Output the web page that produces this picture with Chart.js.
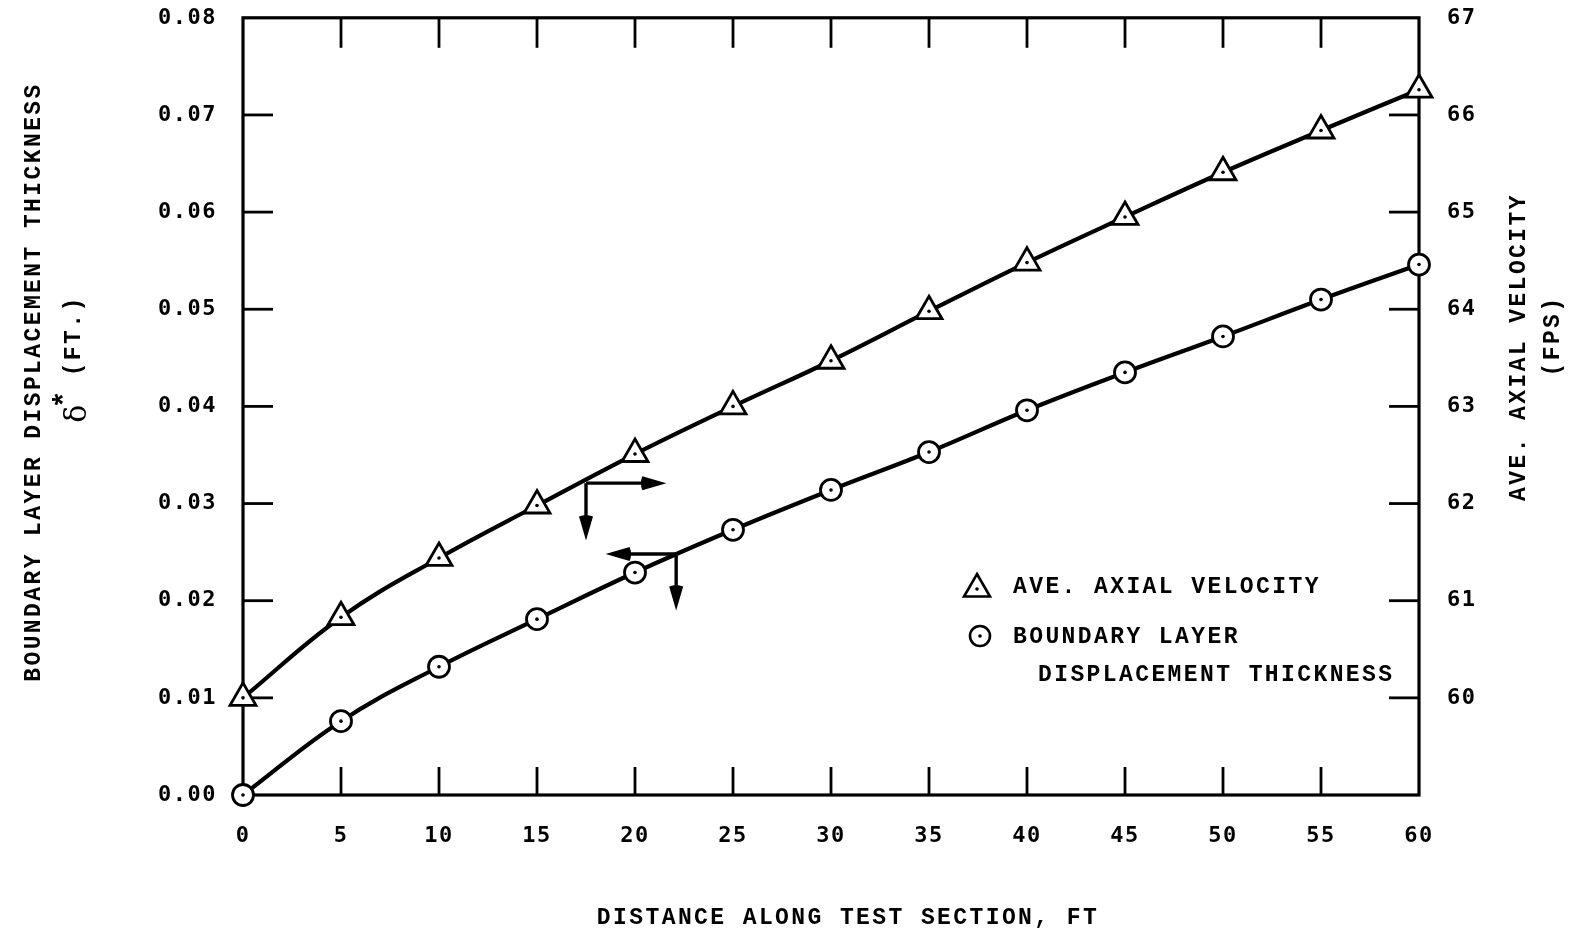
<!DOCTYPE html>
<html><head><meta charset="utf-8">
<script src="https://cdn.jsdelivr.net/npm/chart.js@4.4.1/dist/chart.umd.min.js"></script>
<style>html,body{margin:0;padding:0;background:#fff;}#wrap{width:1572px;height:938px;}</style>
</head><body><div id="wrap"><canvas id="c" width="1572" height="938"></canvas></div>
<script>
// ---- data ----
const distance = [0, 5, 10, 15, 20, 25, 30, 35, 40, 45, 50, 55, 60];
const axialVelocity = [60.00, 60.83, 61.44, 61.98, 62.51, 63.00, 63.47, 63.98, 64.48, 64.95, 65.41, 65.84, 66.26];
const displacementThickness = [0.0000, 0.0076, 0.0132, 0.0181, 0.0229, 0.0273, 0.0314, 0.0353, 0.0396, 0.0435, 0.0472, 0.0510, 0.0546];
const xTickValues = [0, 5, 10, 15, 20, 25, 30, 35, 40, 45, 50, 55, 60];
const leftTickValues = [0, 0.01, 0.02, 0.03, 0.04, 0.05, 0.06, 0.07, 0.08];
const rightTickValues = [60, 61, 62, 63, 64, 65, 66, 67];
// guide arrows: corner on a curve, horizontal tip (x), vertical tip (value on the curve's axis)
const arrowAxis = ['y2', 'y'];
const arrowCornerX = [17.5, 22.1];
const arrowCornerV = [62.21, 0.0248];
const arrowTipX = [21.6, 18.5];
const arrowTipV = [61.62, 0.0190];

const TICKFONT = '"DejaVu Sans Mono", "Liberation Mono", monospace';
const FONT = '"Liberation Mono", "DejaVu Sans Mono", monospace';
const TICK_LS = '1.5px';
const TITLE_LS = '2.4px';

function arrow(ctx, x1, y1, x2, y2) {
  const ang = Math.atan2(y2 - y1, x2 - x1);
  const L = 24, W = 7;
  const c = Math.cos(ang), s = Math.sin(ang);
  const bx = x2 - c * L, by = y2 - s * L;
  ctx.beginPath(); ctx.moveTo(x1, y1); ctx.lineTo(bx + c * 3, by + s * 3); ctx.stroke();
  ctx.beginPath();
  ctx.moveTo(x2, y2);
  ctx.lineTo(bx + s * W, by - c * W);
  ctx.quadraticCurveTo(bx - c * 3, by - s * 3, bx - s * W, by + c * W);
  ctx.closePath(); ctx.fill();
}

const decor = {
  id: 'decor',
  beforeDraw(chart) {
    const ctx = chart.ctx;
    ctx.save(); ctx.fillStyle = '#fff'; ctx.fillRect(0, 0, chart.width, chart.height); ctx.restore();
    ctx.letterSpacing = TICK_LS;
  },
  beforeDatasetsDraw(chart) {
    const ctx = chart.ctx, a = chart.chartArea, s = chart.scales;
    ctx.save();
    ctx.strokeStyle = '#000'; ctx.lineWidth = 3.2;
    ctx.strokeRect(a.left, a.top, a.right - a.left, a.bottom - a.top);
    ctx.lineWidth = 2.8;
    xTickValues.forEach(v => {
      if (v === 0 || v === 60) return;
      const px = s.x.getPixelForValue(v);
      ctx.beginPath(); ctx.moveTo(px, a.bottom); ctx.lineTo(px, a.bottom - 28); ctx.stroke();
      ctx.beginPath(); ctx.moveTo(px, a.top); ctx.lineTo(px, a.top + 30); ctx.stroke();
    });
    leftTickValues.forEach(v => {
      if (v === 0 || v === 0.08) return;
      const py = s.y.getPixelForValue(v);
      ctx.beginPath(); ctx.moveTo(a.left, py); ctx.lineTo(a.left + 30, py); ctx.stroke();
    });
    rightTickValues.forEach(v => {
      if (v === 67) return;
      const py = s.y2.getPixelForValue(v);
      ctx.beginPath(); ctx.moveTo(a.right, py); ctx.lineTo(a.right - 30, py); ctx.stroke();
    });
    ctx.restore();
  },
  afterDatasetsDraw(chart) {
    const ctx = chart.ctx, s = chart.scales;
    ctx.save();
    ctx.fillStyle = '#000';
    // centre dots in markers
    chart.data.datasets.forEach((ds, i) => {
      chart.getDatasetMeta(i).data.forEach(pt => {
        ctx.beginPath(); ctx.arc(pt.x, pt.y, 1.8, 0, Math.PI * 2); ctx.fill();
      });
    });
    // guide arrows
    ctx.strokeStyle = '#000'; ctx.lineWidth = 3.4;
    for (let i = 0; i < arrowAxis.length; i++) {
      const ys = s[arrowAxis[i]];
      const cx = s.x.getPixelForValue(arrowCornerX[i]);
      const cy = ys.getPixelForValue(arrowCornerV[i]);
      arrow(ctx, cx, cy, s.x.getPixelForValue(arrowTipX[i]), cy);
      arrow(ctx, cx, cy, cx, ys.getPixelForValue(arrowTipV[i]));
    }
    // legend
    const tri = (x, y, r) => {
      ctx.beginPath();
      for (let k = 0; k < 3; k++) {
        const ang = k * 2 * Math.PI / 3;
        const px = x + Math.sin(ang) * r, py = y - Math.cos(ang) * r;
        k ? ctx.lineTo(px, py) : ctx.moveTo(px, py);
      }
      ctx.closePath(); ctx.fillStyle = '#fff'; ctx.fill(); ctx.lineWidth = 2.6; ctx.stroke();
      ctx.fillStyle = '#000'; ctx.beginPath(); ctx.arc(x, y, 1.8, 0, Math.PI * 2); ctx.fill();
    };
    const circ = (x, y, r) => {
      ctx.beginPath(); ctx.arc(x, y, r, 0, Math.PI * 2); ctx.fillStyle = '#fff'; ctx.fill();
      ctx.lineWidth = 2.6; ctx.stroke();
      ctx.fillStyle = '#000'; ctx.beginPath(); ctx.arc(x, y, 1.8, 0, Math.PI * 2); ctx.fill();
    };
    tri(977, 589, 15);
    circ(980, 636, 10);
    ctx.fillStyle = '#000';
    const TF = 'bold 23px ' + FONT;
    ctx.font = TF; ctx.letterSpacing = TITLE_LS;
    ctx.textAlign = 'left'; ctx.textBaseline = 'middle';
    ctx.fillText('AVE. AXIAL VELOCITY', 1013, 587);
    ctx.fillText('BOUNDARY LAYER', 1013, 637);
    ctx.fillText('DISPLACEMENT THICKNESS', 1038, 675);
    // x title
    ctx.textAlign = 'center';
    ctx.fillText('DISTANCE ALONG TEST SECTION, FT', 848, 918);
    // left title
    ctx.save();
    ctx.translate(34, 382); ctx.rotate(-Math.PI / 2);
    ctx.fillText('BOUNDARY LAYER DISPLACEMENT THICKNESS', 0, 0);
    ctx.restore();
    ctx.save();
    ctx.translate(74, 356); ctx.rotate(-Math.PI / 2);
    ctx.textAlign = 'left';
    const DF = '30px "DejaVu Serif", "Liberation Serif", serif';
    const SF = 'bold 30px ' + FONT;
    ctx.font = DF; ctx.letterSpacing = '0px';
    const w1 = ctx.measureText('δ').width;
    ctx.font = SF;
    const w2 = ctx.measureText('*').width;
    ctx.font = TF; ctx.letterSpacing = TITLE_LS;
    const w3 = ctx.measureText(' (FT.)').width;
    const x0 = -(w1 + w2 + w3) / 2;
    ctx.font = DF; ctx.letterSpacing = '0px';
    ctx.fillText('δ', x0, 4);
    ctx.font = SF;
    ctx.fillText('*', x0 + w1 - 4, -8);
    ctx.font = TF; ctx.letterSpacing = TITLE_LS;
    ctx.fillText(' (FT.)', x0 + w1 + w2 - 6, 0);
    ctx.restore();
    // right title
    ctx.save();
    ctx.translate(1519, 347); ctx.rotate(-Math.PI / 2);
    ctx.textAlign = 'center';
    ctx.fillText('AVE. AXIAL VELOCITY', 0, 0);
    ctx.restore();
    ctx.save();
    ctx.translate(1553, 336); ctx.rotate(-Math.PI / 2);
    ctx.textAlign = 'center';
    ctx.fillText('(FPS)', 0, 0);
    ctx.restore();
    ctx.restore();
  }
};

const noPad = sc => { sc.paddingTop = 0; sc.paddingBottom = 0; };

const ctx = document.getElementById('c').getContext('2d');
new Chart(ctx, {
  type: 'line',
  data: {
    datasets: [
      {
        label: 'AVE. AXIAL VELOCITY',
        data: distance.map((d, i) => ({ x: d, y: axialVelocity[i] })),
        yAxisID: 'y2',
        borderColor: '#000', borderWidth: 4.2, tension: 0.4,
        pointStyle: 'triangle', pointRadius: 15, pointBorderWidth: 2.8,
        pointBackgroundColor: '#fff', pointBorderColor: '#000',
        clip: false
      },
      {
        label: 'BOUNDARY LAYER DISPLACEMENT THICKNESS',
        data: distance.map((d, i) => ({ x: d, y: displacementThickness[i] })),
        yAxisID: 'y',
        borderColor: '#000', borderWidth: 4.2, tension: 0.4,
        pointStyle: 'circle', pointRadius: 10.5, pointBorderWidth: 2.8,
        pointBackgroundColor: '#fff', pointBorderColor: '#000',
        clip: false
      }
    ]
  },
  options: {
    responsive: false, animation: false, devicePixelRatio: 1,
    layout: { padding: { top: 16, left: 0, right: 0, bottom: 0 } },
    plugins: { legend: { display: false }, tooltip: { enabled: false } },
    scales: {
      x: {
        type: 'linear', min: 0, max: 60,
        afterBuildTicks: sc => { sc.ticks = xTickValues.map(v => ({ value: v })); },
        afterFit: sc => { sc.height = 143; sc.paddingLeft = 0; sc.paddingRight = 0; },
        grid: { display: false }, border: { display: false },
        ticks: { color: '#000', font: { family: TICKFONT, size: 22, weight: 'bold' }, padding: 20, maxRotation: 0, autoSkip: false }
      },
      y: {
        type: 'linear', position: 'left', min: 0, max: 0.08,
        afterBuildTicks: sc => { sc.ticks = leftTickValues.map(v => ({ value: v })); },
        afterFit: sc => { sc.width = 243; noPad(sc); },
        grid: { display: false }, border: { display: false },
        ticks: { color: '#000', font: { family: TICKFONT, size: 22, weight: 'bold' }, padding: 18, callback: v => v.toFixed(2) }
      },
      y2: {
        type: 'linear', position: 'right', min: 59, max: 67,
        afterBuildTicks: sc => { sc.ticks = rightTickValues.map(v => ({ value: v })); },
        afterFit: sc => { sc.width = 153; noPad(sc); },
        grid: { display: false }, border: { display: false },
        ticks: { color: '#000', font: { family: TICKFONT, size: 22, weight: 'bold' }, padding: 20, callback: v => String(v) }
      }
    }
  },
  plugins: [decor]
});
</script>
</body></html>
